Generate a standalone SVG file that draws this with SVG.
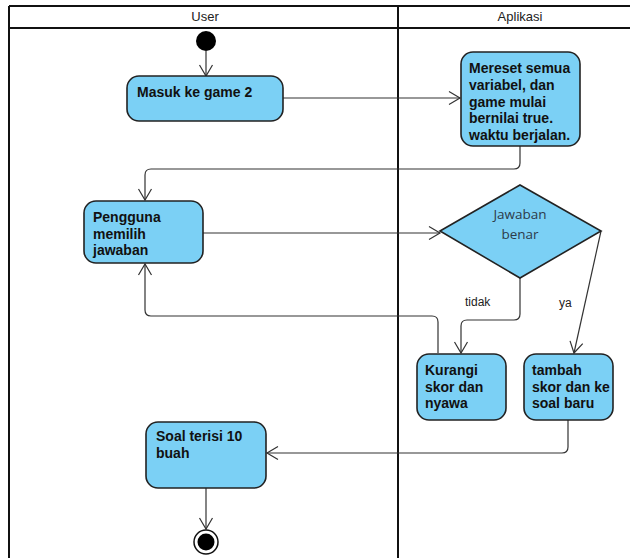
<svg xmlns="http://www.w3.org/2000/svg" width="630" height="558" viewBox="0 0 630 558">
<defs>
<marker id="arr" markerUnits="userSpaceOnUse" markerWidth="14" markerHeight="16" refX="12" refY="8" orient="auto">
<path d="M1,1.5 L12,8 L1,14.5" fill="none" stroke="#333" stroke-width="1.2"/>
</marker>
<style>
.frame{stroke:#111;stroke-width:2;fill:none}
.hdr{font-family:"Liberation Sans",Arial,sans-serif;font-size:13px;fill:#222;text-anchor:middle}
.box{fill:#7BD0F5;stroke:#222;stroke-width:1.6}
.t{font-family:"Liberation Sans",Arial,sans-serif;font-size:14px;font-weight:bold;fill:#111}
.dt{font-family:"Open Sans","Liberation Sans",sans-serif;font-size:13.5px;fill:#2d3b4a;text-anchor:middle}
.lbl{font-family:"Liberation Sans",Arial,sans-serif;font-size:12px;fill:#222}
.c{fill:none;stroke:#333;stroke-width:1.2;marker-end:url(#arr)}
</style>
</defs>
<g id="swimlanes">
<path class="frame" d="M9,6 H640 M9,6 V570 M9,28 H640 M398,6 V570"/>
<text class="hdr" x="205" y="21">User</text>
<text class="hdr" x="520" y="21">Aplikasi</text>
</g>
<g id="connectors">
<path class="c" d="M206,51 V76"/>
<path class="c" d="M283,98 H460"/>
<path class="c" d="M520,146 V163 Q520,169 514,169 H151 Q145,169 145,175 V200"/>
<path class="c" d="M203,233 H440"/>
<path class="c" d="M520,278 V314 Q520,320 514,320 H467 Q461,320 461,326 V353"/>
<path class="c" d="M601,231 L574,353"/>
<path class="c" d="M438,353 V322 Q438,316 432,316 H151 Q145,316 145,310 V264"/>
<path class="c" d="M568,420 V447 Q568,453 562,453 H267"/>
<path class="c" d="M206,488 V529"/>
<text class="lbl" x="465" y="306">tidak</text>
<text class="lbl" x="559" y="307">ya</text>
</g>
<g id="start">
<circle cx="206" cy="41" r="10" fill="#000"/>
</g>
<g id="masuk">
<rect class="box" x="127" y="76" width="156" height="45" rx="12"/>
<text class="t" x="137" y="97">Masuk ke game 2</text>
</g>
<g id="mereset">
<rect class="box" x="461" y="52" width="119" height="94" rx="12"/>
<text class="t" x="469" y="73">Mereset semua</text>
<text class="t" x="469" y="90">variabel, dan</text>
<text class="t" x="469" y="106.5">game mulai</text>
<text class="t" x="469" y="123">bernilai true.</text>
<text class="t" x="469" y="140">waktu berjalan.</text>
</g>
<g id="pengguna">
<rect class="box" x="84" y="201" width="119" height="62" rx="12"/>
<text class="t" x="93" y="222">Pengguna</text>
<text class="t" x="93" y="238.5">memilih</text>
<text class="t" x="93" y="255">jawaban</text>
</g>
<g id="decision">
<polygon class="box" points="440,231 520,185 601,231 520,278"/>
<text class="dt" x="520" y="219">Jawaban</text>
<text class="dt" x="520" y="239">benar</text>
</g>
<g id="kurangi">
<rect class="box" x="417" y="354" width="89" height="66" rx="12"/>
<text class="t" x="425" y="375">Kurangi</text>
<text class="t" x="425" y="391.5">skor dan</text>
<text class="t" x="425" y="408">nyawa</text>
</g>
<g id="tambah">
<rect class="box" x="524" y="354" width="89" height="66" rx="12"/>
<text class="t" x="532" y="375">tambah</text>
<text class="t" x="532" y="391.5">skor dan ke</text>
<text class="t" x="532" y="408">soal baru</text>
</g>
<g id="soal">
<rect class="box" x="146" y="422" width="120" height="66" rx="12"/>
<text class="t" x="156" y="441">Soal terisi 10</text>
<text class="t" x="156" y="457.5">buah</text>
</g>
<g id="end">
<circle cx="206" cy="542" r="12" fill="#fff" stroke="#111" stroke-width="1.5"/>
<circle cx="206" cy="542" r="8.5" fill="#000"/>
</g>
</svg>
